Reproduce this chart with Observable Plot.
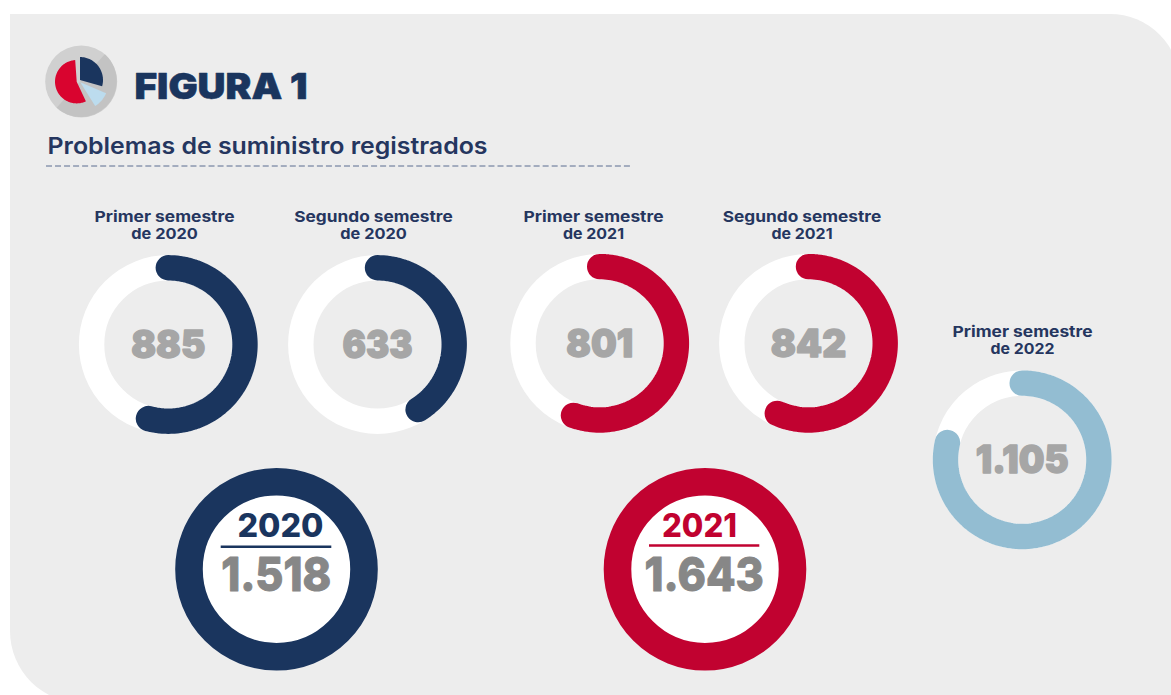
<!DOCTYPE html>
<html lang="es">
<head>
<meta charset="utf-8">
<script src="https://cdn.jsdelivr.net/npm/d3@7"></script>
<script src="https://cdn.jsdelivr.net/npm/@observablehq/plot@0.6"></script>
<style>
html,body{margin:0;padding:0;background:#fff;overflow:hidden}
#stage{position:relative;width:1171px;height:695px;overflow:hidden}
#panel{position:absolute;left:10px;top:14px;width:1170px;height:689px;background:#ededed;border-top-right-radius:70px;border-bottom-left-radius:72px}
#chart{position:absolute;left:0;top:0}
#chart svg{background:transparent;display:block}
</style>
</head>
<body>
<div id="stage"><div id="panel"></div><div id="chart"></div></div>
<script>
// ---- data ----
const periods = ["Primer semestre 2020","Segundo semestre 2020","Primer semestre 2021","Segundo semestre 2021","Primer semestre 2022"];
const labelLine1 = ["Primer semestre","Segundo semestre","Primer semestre","Segundo semestre","Primer semestre"];
const labelLine2 = ["de 2020","de 2020","de 2021","de 2021","de 2022"];
const periodValues = ["885","633","801","842","1.105"];
const periodYears = ["2020","2020","2021","2021","2022"];
const arcDegrees = [195,148,200,204,283];
const yearNames = ["2020","2021"];
const yearTotals = ["1.518","1.643"];
const iconSliceNames = ["rojo","azul","celeste"];
const iconSliceFrom = [155,0,113];
const iconSliceTo = [356,106,148];

// ---- layout ----
const navy="#1a355e", red="#c10230", sky="#93bdd2", ink="#25365f";
const font="Inter, 'Noto Sans', sans-serif";
const donutX=[167.8,377,599.2,808,1021.7], donutY=[344,344,342.8,342.8,459.3];
const donutR=76.7, donutW=25.4;
const labelX=[164,373,593,801.5,1022], labelY=[221,238,336,353];
const bigX=[276,704.5], bigY=568.7, bigR=87.5, bigW=27.6;
const textWidths={"FIGURA 1":173,"Problemas de suministro registrados":440,"Primer semestre":140,"Segundo semestre":158.5,
  "de 2020":66.5,"de 2021":61,"de 2022":64,"885":74,"633":70,"801":66.7,"842":75.3,"1.105":92.7,
  "2020":86,"2021":75,"1.518":110,"1.643":119.3};
const polar=(cx,cy,r,deg)=>{const a=deg*Math.PI/180;return [cx+r*Math.sin(a),cy-r*Math.cos(a)];};
const sweep=(from,to)=>{const s=[];for(let d=from;d<to;d+=2)s.push(d);s.push(to);return s;};

const arcPoints=periods.flatMap((p,i)=>sweep(0,arcDegrees[i]).map(d=>{
  const [x,y]=polar(donutX[i],donutY[i],donutR,d);
  return {period:p,year:periodYears[i],x,y};
}));
const wedge=(cx,cy,r,from,to,name)=>sweep(from,to).map(d=>{
  const [x,y]=polar(cx,cy,r,d);return {name,x0:cx,y0:cy,x,y};
});
const iconCx=[76.7,80,80.3], iconCy=[81.7,80,82.3], iconR=[21.7,23,28];
const iconSlices=iconSliceNames.flatMap((n,i)=>wedge(iconCx[i],iconCy[i],iconR[i],iconSliceFrom[i],iconSliceTo[i],n));
const iconShadow=wedge(80.7,81,36,42,222,"sombra");

const idx=d3.range(periods.length);
const yearIdx=d3.range(yearNames.length);
const T=(data,o)=>Plot.text(data,{fontFamily:font,lineAnchor:"bottom",...o});

const chart=Plot.plot({
  width:1171,height:695,margin:0,
  x:{domain:[0,1171],range:[0,1171],axis:null},
  y:{domain:[0,695],range:[0,695],axis:null},
  color:{domain:[...yearNames,"2022",...iconSliceNames,"sombra"],range:[navy,red,sky,"#d9042f",navy,"#bcdcee","#c3c3c3"]},
  style:{background:"transparent"},
  marks:[
    // icon
    Plot.dot([0],{x:()=>80.7,y:()=>81,r:36,fill:"#d0d0d0"}),
    Plot.area(iconShadow,{x1:"x0",y1:"y0",x2:"x",y2:"y",z:"name",fill:"name"}),
    Plot.area(iconSlices,{x1:"x0",y1:"y0",x2:"x",y2:"y",z:"name",fill:"name"}),
    // heading
    T(["FIGURA 1"],{x:()=>134,y:()=>98,text:d=>d,textAnchor:"start",fontSize:36,fontWeight:900,fill:navy,stroke:navy,strokeWidth:0.6}),
    T(["Problemas de suministro registrados"],{x:()=>47,y:()=>153,text:d=>d,textAnchor:"start",fontSize:23,fontWeight:600,fill:ink}),
    Plot.ruleY([165.5],{x1:46,x2:630,stroke:"#5a6c90",strokeWidth:1,strokeDasharray:"6,3.03"}),
    // period donuts
    Plot.dot(idx,{x:i=>donutX[i],y:i=>donutY[i],r:donutR,fill:"none",stroke:"#fff",strokeWidth:donutW}),
    Plot.line(arcPoints,{x:"x",y:"y",z:"period",stroke:"year",strokeWidth:donutW,strokeLinecap:"round",strokeLinejoin:"round"}),
    T(idx,{x:i=>labelX[i],y:i=>labelY[i<4?0:2],text:i=>labelLine1[i],fontSize:15,fontWeight:700,fill:ink}),
    T(idx,{x:i=>labelX[i],y:i=>labelY[i<4?1:3],text:i=>labelLine2[i],fontSize:15,fontWeight:700,fill:ink}),
    T(idx,{x:i=>donutX[i],y:i=>donutY[i]+13.5,text:i=>periodValues[i],fontSize:38,fontWeight:900,fill:"#a6a6a6",stroke:"#a6a6a6",strokeWidth:1.4}),
    // year totals
    Plot.dot(yearIdx,{x:i=>bigX[i],y:()=>bigY,r:bigR,fill:"#fff",stroke:i=>yearNames[i],strokeWidth:bigW}),
    T(yearIdx,{x:i=>[280,699][i],y:()=>536.5,text:i=>yearNames[i],fontSize:32,fontWeight:800,fill:i=>yearNames[i]}),
    Plot.ruleY(yearIdx,{y:i=>[546.3,545][i],x1:i=>[220.7,649][i],x2:i=>[331.3,759.3][i],stroke:i=>yearNames[i],strokeWidth:2.5}),
    T(yearIdx,{x:i=>[275.7,703.7][i],y:()=>590,text:i=>yearTotals[i],fontSize:47,fontWeight:800,fill:"#878787",stroke:"#878787",strokeWidth:1})
  ]
});
// stretch glyphs to the widths measured in the reference (its wide typeface is not installed)
d3.select(chart).selectAll("text").each(function(){
  const w=textWidths[this.textContent];
  if(w){this.setAttribute("textLength",w);this.setAttribute("lengthAdjust","spacingAndGlyphs");}
});
document.getElementById("chart").appendChild(chart);
</script>
</body>
</html>
